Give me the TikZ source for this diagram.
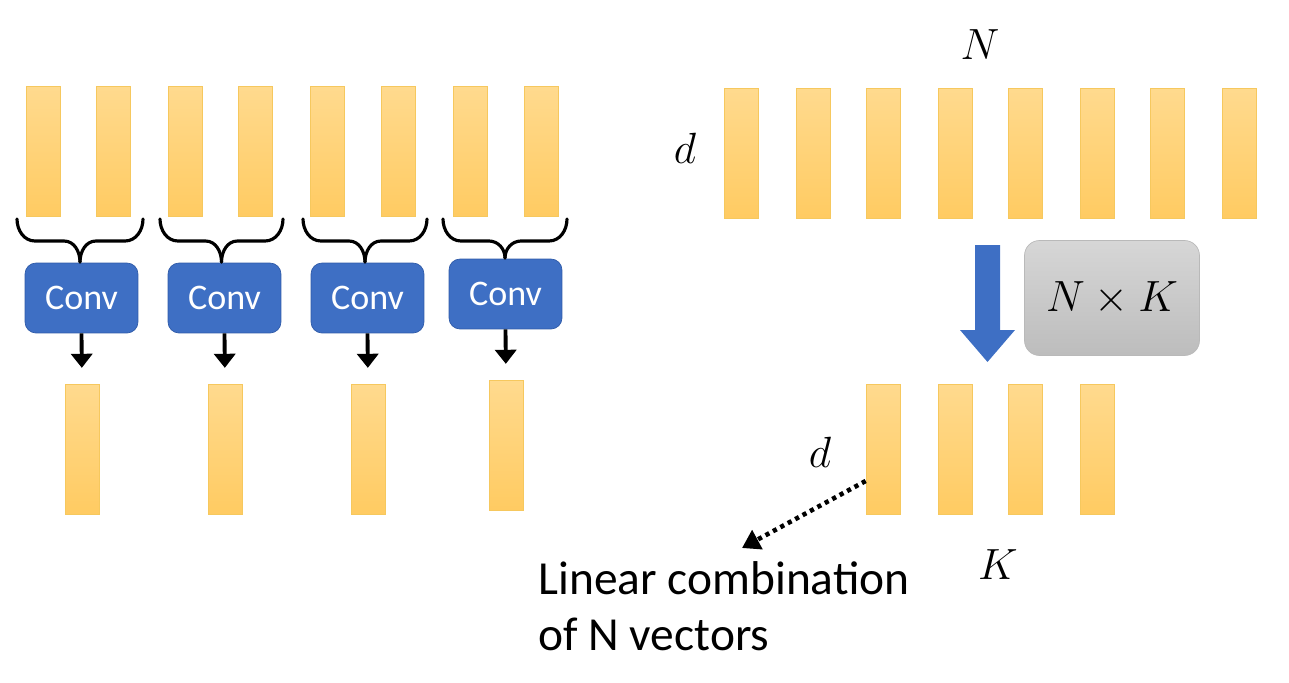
\documentclass[tikz,border=0pt]{standalone}
\usepackage{fontspec}
\setmainfont{Carlito}
\usetikzlibrary{arrows.meta,positioning}
\definecolor{bartop}{HTML}{FFDA8E}
\definecolor{barbot}{HTML}{FFCB62}
\definecolor{baredge}{HTML}{F6C85E}
\definecolor{convblue}{HTML}{3E6FC4}
\definecolor{convedge}{HTML}{2F5BA8}
\begin{document}
\begin{tikzpicture}[x=0.02cm,y=-0.02cm]

	\def \toprow{151.5}
	\def \botrow{449}
	\tikzstyle{vec}=[inner sep=0pt,minimum width=0.68cm,minimum height=2.6cm,top color=bartop,bottom color=barbot,draw=baredge,line width=0.4pt]
	\tikzstyle{conv}=[rounded corners=0.22cm,fill=convblue,draw=convedge,minimum width=2.26cm,minimum height=1.4cm,text=white,font=\fontsize{20.5}{24}\selectfont]
	\tikzstyle{var}=[inner sep=0pt,font=\fontsize{25}{28}\selectfont]
	\tikzstyle{brc}=[line width=1.8pt,line cap=round]
	\tikzstyle{down}=[-{Triangle[width=12pt,length=8pt]},line width=2.2pt,shorten >=9pt]
	\useasboundingbox (0,0) rectangle (1289,683);

	% left: input vectors
	\foreach \x [count=\i] in {43.5,113.5,185,255,327,398,470,541}
		\node[vec] (t\i) at (\x,\toprow) {};

	% left: conv blocks
	\node[conv] (c1) at (81.5,298) {Conv};
	\node[conv] (c2) at (224.5,298) {Conv};
	\node[conv] (c3) at (367.5,298) {Conv};
	\node[conv] (c4) at (505.5,294) {Conv};

	% left: outputs
	\node[vec] (o1) at (82,\botrow) {};
	\node[vec] (o2) at (225,\botrow) {};
	\node[vec] (o3) at (368,\botrow) {};
	\node[vec] (o4) at (506,445) {};

	% braces
	\foreach \l/\m/\r/\b in {17/80/143/262,160/221.5/283/262,303/365/427/262,443/505/567/258}{
		\draw[brc] (\l,219) to[out=-90,in=180] (\l+18,241) -- (\m-16,241) to[out=0,in=90] (\m,\b);
		\draw[brc] (\r,219) to[out=-90,in=0] (\r-18,241) -- (\m+16,241) to[out=180,in=90] (\m,\b);
	}

	% arrows
	\foreach \g in {1,...,4}
		\draw[down] (c\g.south) -- (o\g.north);

	% right: N vectors
	\foreach \x [count=\i] in {741,813,883,955,1025,1097,1167,1239}
		\node[vec] (n\i) at (\x,153) {};
	\node[var] (Nlab) at (980,45) {$N$};
	\node[var] (dtop) at (685,148) {$d$};

	% projection
	\fill[convblue] (975,245) -- (1000,245) -- (1000,330) -- (1015,330) -- (987.5,362) -- (960,330) -- (975,330) -- cycle;
	\node[rounded corners=0.3cm,top color=gray!32,bottom color=gray!52,draw=gray!55,minimum width=3.5cm,minimum height=2.3cm,var] (proj) at (1112,298) {$N\times K$};

	% right: K vectors
	\foreach \x [count=\i] in {883,955,1025,1097}
		\node[vec] (k\i) at (\x,\botrow) {};
	\node[var] (dbot) at (820,452) {$d$};
	\node[var] (Klab) at (998,565) {$K$};

	% annotation
	\node[anchor=north west,inner sep=0pt,align=left,font=\fontsize{27}{32}\selectfont] (lin) at (538,561) {Linear combination\\of N vectors};
	\coordinate (lctip) at (742,548);
	\draw[-{Triangle[width=12pt,length=10pt]},line width=2.6pt,dash pattern=on 2.4pt off 2.4pt] ([yshift=-0.64cm]k1.west) -- (lctip);

\end{tikzpicture}
\end{document}
